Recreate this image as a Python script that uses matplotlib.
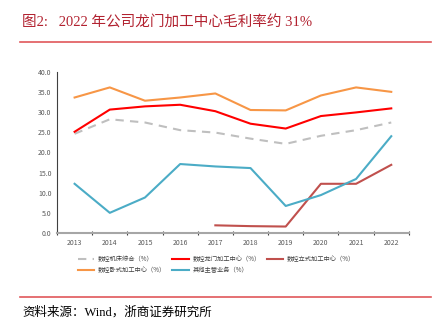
import matplotlib.pyplot as plt
from matplotlib.lines import Line2D

plt.rcParams['font.family'] = ['Noto Sans CJK SC', 'DejaVu Sans']
plt.rcParams['axes.unicode_minus'] = False

# 数据
years = ['2013', '2014', '2015', '2016', '2017', '2018', '2019', '2020', '2021', '2022']
zonghe = [24.6, 28.2, 27.4, 25.5, 24.9, 23.4, 22.1, 24.1, 25.5, 27.4]      # 数控机床综合
longmen = [25.1, 30.6, 31.4, 31.8, 30.2, 27.1, 25.9, 29.0, 29.9, 30.9]     # 数控龙门加工中心
lishi = [None, None, None, None, 1.9, 1.7, 1.6, 12.2, 12.2, 16.9]          # 数控立式加工中心
woshi = [33.6, 36.1, 32.8, 33.6, 34.6, 30.5, 30.4, 34.1, 36.1, 35.0]       # 数控卧式加工中心
qita = [12.2, 5.0, 8.8, 17.1, 16.5, 16.1, 6.7, 9.4, 13.4, 24.0]            # 其他主营业务

fig = plt.figure(figsize=(4.42, 3.35), dpi=100)
ax = fig.add_axes([0.129, 0.3045, 0.796, 0.4815])

x = list(range(len(years)))
lishi_x = [i for i, v in zip(x, lishi) if v is not None]
lishi_y = [v for v in lishi if v is not None]

l1, = ax.plot(x, zonghe, color='#BFBFBF', lw=1.5, dashes=(4, 3))
l2, = ax.plot(x, longmen, color='#FF0000', lw=1.5)
l3, = ax.plot(lishi_x, lishi_y, color='#C0504D', lw=1.5)
l4, = ax.plot(x, woshi, color='#F79646', lw=1.5)
l5, = ax.plot(x, qita, color='#4BACC6', lw=1.5)

ax.set_xlim(-0.5, 9.5)
ax.set_ylim(0, 40)
ax.set_yticks(range(0, 41, 5))
ax.set_yticklabels([f'{v:.1f}' for v in range(0, 41, 5)])
ax.set_xticks(x)
ax.set_xticklabels(years)
ax.set_xticks([i - 0.5 for i in range(11)], minor=True)
ax.tick_params(axis='both', which='major', length=0, labelsize=5, colors='#595959', pad=4)
ax.tick_params(axis='x', which='minor', length=2.5, width=0.8, color='#404040', direction='inout')
for s in ['top', 'right']:
    ax.spines[s].set_visible(False)
ax.spines['left'].set_color('#404040')
ax.spines['left'].set_linewidth(0.8)
ax.spines['bottom'].set_color('#A6A6A6')
ax.spines['bottom'].set_linewidth(1.5)

handles = [l1, l4, l2, l5, l3]
labels = ['数控机床综合（%）', '数控卧式加工中心（%）', '数控龙门加工中心（%）',
          '其他主营业务（%）', '数控立式加工中心（%）']
fig.legend(handles, labels, ncol=3, loc='center', bbox_to_anchor=(0.49, 0.21),
           frameon=False, fontsize=4.5, handlelength=2.6, columnspacing=1.0,
           labelspacing=0.4, handletextpad=0.6, labelcolor='#404040')

# 标题与分隔线
fig.text(0.05, 0.934, '图2:   2022 年公司龙门加工中心毛利率约 31%', fontsize=10.5,
         color='#B22230', va='center', ha='left',
         family=['Liberation Serif', 'Noto Sans CJK SC'])
fig.add_artist(Line2D([0.045, 0.975], [0.876, 0.876], color='#E0585A', lw=1.2))
fig.add_artist(Line2D([0.045, 0.975], [0.112, 0.112], color='#E0585A', lw=1.2))
fig.text(0.05, 0.066, '资料来源：Wind，浙商证券研究所', fontsize=9, color='#000000',
         va='center', ha='left', family=['Liberation Serif', 'Noto Sans CJK SC'])

fig.savefig('out.png', dpi=100)
